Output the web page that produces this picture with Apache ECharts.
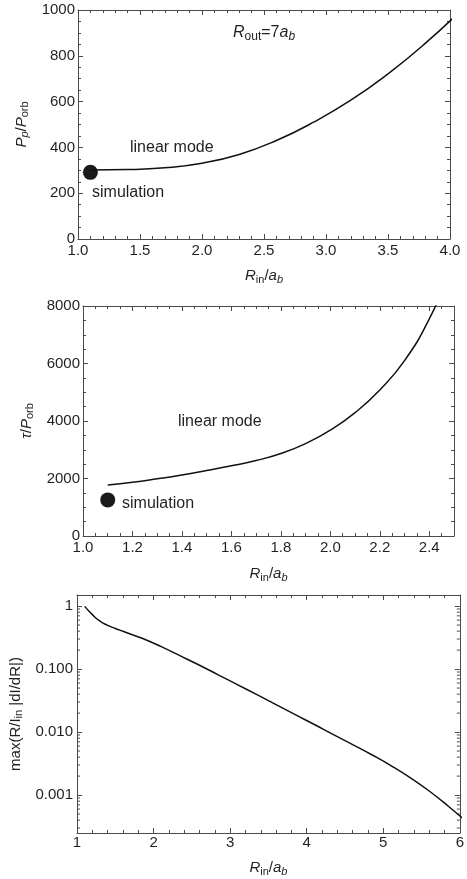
<!DOCTYPE html>
<html>
<head>
<meta charset="utf-8">
<script src="https://cdn.jsdelivr.net/npm/echarts@6/dist/echarts.min.js"></script>
<style>
  html, body { margin: 0; padding: 0; background: #fff; }
  #main { width: 467px; height: 879px; }
</style>
</head>
<body>
<div id="main"></div>
<script>
// panel 1: period of the linear mode vs inner radius (last point past the frame, clipped)
var periodR = [1.1, 1.4, 1.7, 2.0, 2.3, 2.6, 2.9, 3.2, 3.5, 3.8, 4.1]
var periodVal = [301, 303, 311, 331, 369, 430, 510, 606, 721, 854, 1004]
var periodSim = [[1.1, 291]]

// panel 2: growth time (last point past the top, clipped)
var tauR = [1.1, 1.2, 1.3, 1.4, 1.5, 1.6, 1.7, 1.8, 1.9, 2.0, 2.1, 2.2, 2.3, 2.4, 2.5]
var tauVal = [1775, 1870, 1990, 2120, 2275, 2440, 2625, 2870, 3215, 3680, 4290, 5080, 6100, 7550, 9500]
var tauSim = [[1.1, 1255]]

// panel 3: max(R/I_in |dI/dR|), log scale
var gradR = [1.1, 1.2, 1.3, 1.4, 1.5, 1.6, 1.85, 2.1, 2.35, 2.6, 2.85, 3.1, 3.35, 3.6, 3.85, 4.1, 4.35, 4.6, 4.85, 5.1, 5.35, 5.6, 5.85, 6.1]
var gradVal = [0.99, 0.733, 0.575, 0.495, 0.442, 0.398, 0.308, 0.227, 0.162, 0.115, 0.0804, 0.0562, 0.0392, 0.0272, 0.0189, 0.0132,
  0.00912, 0.00634, 0.00437, 0.00294, 0.0019, 0.00116, 0.000665, 0.000366]

var FONT = 'Liberation Sans'
var TXT = '#231f20'
var FRAME = '#4a4a4a'

// rich styles for italic symbols and subscripts
var rich = {
  i: { fontFamily: FONT, fontSize: 15, fontStyle: 'italic', color: TXT },
  n: { fontFamily: FONT, fontSize: 15, color: TXT },
  s: { fontFamily: FONT, fontSize: 11, color: TXT, padding: [7, 0, 0, 0] },
  si: { fontFamily: FONT, fontSize: 11, fontStyle: 'italic', color: TXT, padding: [7, 0, 0, 0] }
}
var richBig = {
  i: { fontFamily: FONT, fontSize: 16, fontStyle: 'italic', color: TXT },
  n: { fontFamily: FONT, fontSize: 16, color: TXT },
  s: { fontFamily: FONT, fontSize: 12, color: TXT, padding: [7, 0, 0, 0] },
  si: { fontFamily: FONT, fontSize: 12, fontStyle: 'italic', color: TXT, padding: [7, 0, 0, 0] }
}

function zip(xs, ys) {
  return xs.map(function (x, k) { return [x, ys[k]] })
}

// one axis of a framed panel; mirror = the opposite side without labels
function axis(o) {
  var a = {
    type: o.type || 'value',
    gridIndex: o.grid,
    position: o.position,
    min: o.min,
    max: o.max,
    axisLine: { show: true, onZero: false, lineStyle: { color: FRAME, width: 1 } },
    axisTick: { show: true, inside: true, length: 5, lineStyle: { color: FRAME } },
    minorTick: { show: !!o.minor, splitNumber: o.minor || 5, length: 3, lineStyle: { color: FRAME } },
    splitLine: { show: false },
    minorSplitLine: { show: false },
    axisLabel: {
      show: !o.mirror,
      color: TXT,
      fontFamily: FONT,
      fontSize: 15,
      margin: o.margin || 4,
      formatter: o.fmt,
      showMinLabel: o.showMin,
      showMaxLabel: o.showMax
    }
  }
  if (o.interval) a.interval = o.interval
  if (o.logBase) a.logBase = o.logBase
  if (o.name && !o.mirror) {
    a.name = o.name
    a.nameLocation = 'middle'
    a.nameGap = o.nameGap
    a.nameTextStyle = { rich: rich }
  }
  return a
}

var fmt1 = function (v) { return v.toFixed(1) }
var fmtInt = function (v) { return String(Math.round(v)) }
var fmtLog = function (v) { return v >= 0.999 ? '1' : v.toFixed(3) }

var xAxes = [], yAxes = []
;[false, true].forEach(function (m) {
  xAxes.push(axis({ grid: 0, position: m ? 'top' : 'bottom', mirror: m, min: 1, max: 4, interval: 0.5, minor: 5, fmt: fmt1,
    name: '{i|R}{s|in}{n|/}{i|a}{si|b}', nameGap: 28 }))
})
;[false, true].forEach(function (m) {
  xAxes.push(axis({ grid: 1, position: m ? 'top' : 'bottom', mirror: m, min: 1, max: 2.5, interval: 0.2, minor: 4, fmt: fmt1,
    showMax: false, name: '{i|R}{s|in}{n|/}{i|a}{si|b}', nameGap: 29 }))
})
;[false, true].forEach(function (m) {
  xAxes.push(axis({ grid: 2, position: m ? 'top' : 'bottom', mirror: m, min: 1, max: 6, interval: 1, minor: 5, fmt: fmtInt, margin: 2,
    name: '{i|R}{s|in}{n|/}{i|a}{si|b}', nameGap: 26 }))
})
;[false, true].forEach(function (m) {
  yAxes.push(axis({ grid: 0, position: m ? 'right' : 'left', mirror: m, min: 0, max: 1000, interval: 200, minor: 4, fmt: fmtInt, margin: 3,
    name: '{i|P}{si|p}{n|/}{i|P}{s|orb}', nameGap: 44 }))
})
;[false, true].forEach(function (m) {
  yAxes.push(axis({ grid: 1, position: m ? 'right' : 'left', mirror: m, min: 0, max: 8000, interval: 2000, minor: 4, fmt: fmtInt, margin: 3,
    name: '{i|τ}{n|/}{i|P}{s|orb}', nameGap: 42 }))
})
;[false, true].forEach(function (m) {
  yAxes.push(axis({ grid: 2, type: 'log', logBase: 10, position: m ? 'right' : 'left', mirror: m, min: 0.00025, max: 1.5, fmt: fmtLog,
    margin: 4, showMin: false, showMax: false, name: '{n|max(R/I}{s|in}{n| |dI/dR|)}', nameGap: 43 }))
})

var grids = [
  { left: 78, top: 10, width: 372, height: 229 },
  { left: 83, top: 306, width: 371, height: 230 },
  { left: 77, top: 595, width: 385, height: 238 }
]

function annot(id, x, y, text) {
  return {
    type: 'text', id: id, x: x, y: y, silent: true,
    style: { text: text, rich: richBig, verticalAlign: 'middle', fill: TXT, fontFamily: FONT, fontSize: 16 }
  }
}

var lineStyle = { color: '#111', width: 1.5 }
var dot = { color: '#1a1a1a', opacity: 1 }

var chart = echarts.init(document.getElementById('main'))
chart.setOption({
  animation: false,
  backgroundColor: '#fff',
  grid: grids,
  xAxis: xAxes,
  yAxis: yAxes,
  graphic: { elements: [
    annot('rout', 233, 33, '{i|R}{s|out}{n|=7}{i|a}{si|b}'),
    annot('lin1', 130, 148, '{n|linear mode}'),
    annot('sim1', 92, 193, '{n|simulation}'),
    annot('lin2', 178, 422, '{n|linear mode}'),
    annot('sim2', 122, 504, '{n|simulation}')
  ] },
  series: [
    { type: 'line', xAxisIndex: 0, yAxisIndex: 0, data: zip(periodR, periodVal), smooth: 0.5, clip: true,
      showSymbol: false, lineStyle: lineStyle },
    { type: 'scatter', xAxisIndex: 0, yAxisIndex: 0, data: periodSim, symbolSize: 15, itemStyle: dot },
    { type: 'line', xAxisIndex: 2, yAxisIndex: 2, data: zip(tauR, tauVal), smooth: 0.5, clip: true,
      showSymbol: false, lineStyle: lineStyle },
    { type: 'scatter', xAxisIndex: 2, yAxisIndex: 2, data: tauSim, symbolSize: 15, itemStyle: dot },
    { type: 'line', xAxisIndex: 4, yAxisIndex: 4, data: zip(gradR, gradVal), smooth: 0.5, clip: true,
      showSymbol: false, lineStyle: lineStyle }
  ]
})

// log-axis minor ticks at 2..9 of each decade, placed through the axis scale
var xl = chart.convertToPixel({ xAxisIndex: 4 }, 1)
var xr = chart.convertToPixel({ xAxisIndex: 4 }, 6)
var ticks = []
for (var e = -4; e <= 0; e++) {
  for (var k = 2; k <= 9; k++) {
    var v = k * Math.pow(10, e)
    if (v < 0.00025 || v > 1.5) continue
    var py = chart.convertToPixel({ yAxisIndex: 4 }, v)
    ticks.push({ type: 'line', id: 'tl' + e + k, silent: true, shape: { x1: xl, y1: py, x2: xl + 3, y2: py },
      style: { stroke: FRAME, lineWidth: 1 } })
    ticks.push({ type: 'line', id: 'tr' + e + k, silent: true, shape: { x1: xr - 3, y1: py, x2: xr, y2: py },
      style: { stroke: FRAME, lineWidth: 1 } })
  }
}
chart.setOption({ graphic: { elements: ticks } })
</script>
</body>
</html>
